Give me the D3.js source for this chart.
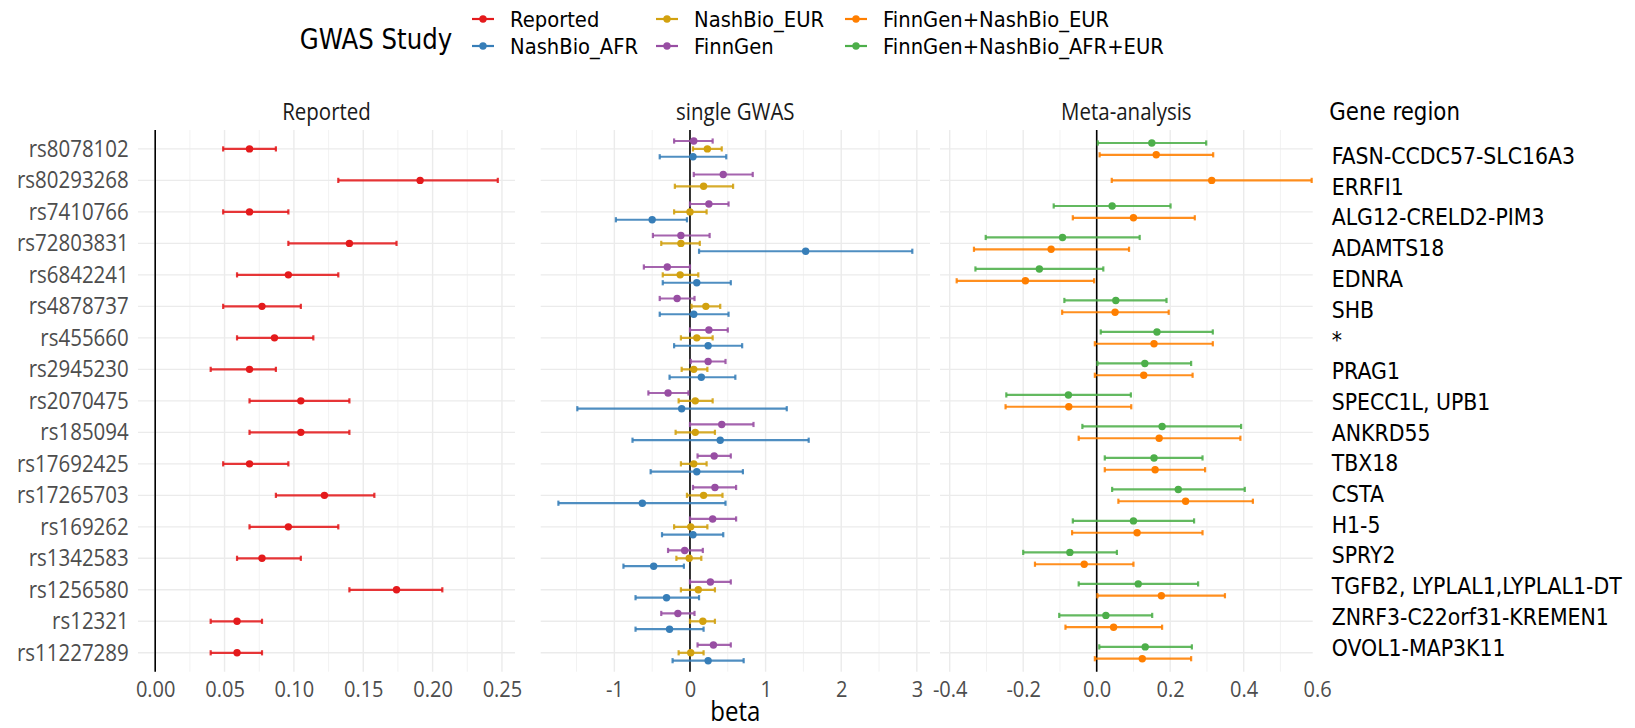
<!DOCTYPE html>
<html>
<head>
<meta charset="utf-8">
<script src="https://cdn.jsdelivr.net/npm/d3@7"></script>
<style>
  body { margin: 0; background: #fff; }
  svg { display: block; }
</style>
</head>
<body>
<svg id="chart" width="1635" height="728"></svg>
<script>
// ---- data ----
const snps = ['rs8078102','rs80293268','rs7410766','rs72803831','rs6842241','rs4878737','rs455660','rs2945230',
  'rs2070475','rs185094','rs17692425','rs17265703','rs169262','rs1342583','rs1256580','rs12321','rs11227289'];

const genes = ['FASN-CCDC57-SLC16A3','ERRFI1','ALG12-CRELD2-PIM3','ADAMTS18','EDNRA','SHB','*','PRAG1',
  'SPECC1L, UPB1','ANKRD55','TBX18','CSTA','H1-5','SPRY2','TGFB2, LYPLAL1,LYPLAL1-DT','ZNRF3-C22orf31-KREMEN1','OVOL1-MAP3K11'];

const studies = ['Reported','NashBio_AFR','NashBio_EUR','FinnGen','FinnGen+NashBio_EUR','FinnGen+NashBio_AFR+EUR'];
const studyColors = ['#E41A1C','#377EB8','#D2A10F','#984EA3','#FF7F00','#4DAF4A'];

// beta / lower / upper per study, one value per snp (null = not available)
const reportedBeta = [0.068,0.191,0.068,0.140,0.096,0.077,0.086,0.068,0.105,0.105,0.068,0.122,0.096,0.077,0.174,0.059,0.059];
const reportedLo   = [0.049,0.132,0.049,0.096,0.059,0.049,0.059,0.040,0.068,0.068,0.049,0.087,0.068,0.059,0.140,0.040,0.040];
const reportedHi   = [0.087,0.247,0.096,0.174,0.132,0.105,0.114,0.087,0.140,0.140,0.096,0.158,0.132,0.105,0.207,0.077,0.077];

const afrBeta = [0.04,null,-0.50,1.53,0.09,0.05,0.24,0.15,-0.11,0.40,0.09,-0.63,0.04,-0.48,-0.31,-0.27,0.24];
const afrLo   = [-0.40,null,-0.98,0.12,-0.36,-0.40,-0.21,-0.27,-1.49,-0.76,-0.52,-1.74,-0.37,-0.88,-0.72,-0.72,-0.23];
const afrHi   = [0.48,null,-0.04,2.94,0.54,0.51,0.69,0.60,1.28,1.57,0.70,0.47,0.44,-0.08,0.12,0.18,0.71];

const eurBeta = [0.23,0.18,0.00,-0.12,-0.13,0.21,0.09,0.05,0.07,0.07,0.05,0.18,0.01,-0.01,0.11,0.17,0.01];
const eurLo   = [0.04,-0.20,-0.21,-0.38,-0.36,0.02,-0.12,-0.11,-0.15,-0.19,-0.12,-0.04,-0.21,-0.18,-0.12,0.00,-0.15];
const eurHi   = [0.42,0.57,0.22,0.13,0.11,0.40,0.30,0.23,0.30,0.33,0.22,0.43,0.23,0.15,0.33,0.33,0.18];

const finnBeta = [0.05,0.44,0.25,-0.12,-0.30,-0.17,0.25,0.24,-0.29,0.42,0.32,0.33,0.30,-0.07,0.27,-0.16,0.31];
const finnLo   = [-0.21,0.05,0.00,-0.49,-0.61,-0.40,0.00,0.01,-0.55,0.00,0.10,0.04,0.00,-0.29,0.00,-0.38,0.10];
const finnHi   = [0.30,0.83,0.51,0.26,0.00,0.06,0.50,0.47,-0.02,0.84,0.54,0.61,0.61,0.17,0.54,0.06,0.54];

const metaEurBeta = [0.162,0.313,0.100,-0.124,-0.194,0.050,0.156,0.128,-0.076,0.170,0.159,0.242,0.110,-0.034,0.176,0.046,0.124];
const metaEurLo   = [0.008,0.041,-0.065,-0.334,-0.381,-0.094,-0.005,-0.005,-0.248,-0.049,0.022,0.059,-0.067,-0.168,0.002,-0.085,-0.005];
const metaEurHi   = [0.317,0.585,0.267,0.088,-0.007,0.196,0.316,0.261,0.094,0.391,0.295,0.425,0.288,0.100,0.349,0.178,0.257];

const metaAllBeta = [0.150,null,0.042,-0.093,-0.156,0.052,0.164,0.131,-0.077,0.178,0.156,0.222,0.100,-0.073,0.113,0.025,0.132];
const metaAllLo   = [0.003,null,-0.117,-0.302,-0.330,-0.088,0.011,0.002,-0.246,-0.039,0.022,0.042,-0.065,-0.200,-0.049,-0.102,0.007];
const metaAllHi   = [0.298,null,0.201,0.117,0.018,0.190,0.316,0.257,0.093,0.393,0.288,0.403,0.265,0.055,0.276,0.151,0.259];

const ticksReported = [0, 0.05, 0.10, 0.15, 0.20, 0.25];
const ticksSingle = [-1, 0, 1, 2, 3];
const ticksMeta = [-0.4, -0.2, 0.0, 0.2, 0.4, 0.6];

// long table
const series = [
  [reportedBeta, reportedLo, reportedHi],
  [afrBeta, afrLo, afrHi],
  [eurBeta, eurLo, eurHi],
  [finnBeta, finnLo, finnHi],
  [metaEurBeta, metaEurLo, metaEurHi],
  [metaAllBeta, metaAllLo, metaAllHi]
];
const panelOf = ['Reported','single GWAS','single GWAS','single GWAS','Meta-analysis','Meta-analysis'];
const rows = [];
series.forEach((s, k) => {
  snps.forEach((snp, i) => {
    if (s[0][i] == null) return;
    rows.push({snp, study: studies[k], si: k, panel: panelOf[k], beta: s[0][i], lo: s[1][i], hi: s[2][i]});
  });
});

// ---- layout ----
const SX = 0.89;   // text in the picture is a bit narrow
const panelTop = 130, panelBottom = 671.7;
const panels = [
  {name: 'Reported', x0: 138, x1: 515, domain: [-0.0124, 0.2594], ticks: ticksReported,
   minor: [0.025, 0.075, 0.125, 0.175, 0.225], fmt: d => d.toFixed(2)},
  {name: 'single GWAS', x0: 540.7, x1: 930, domain: [-1.974, 3.174], ticks: ticksSingle,
   minor: [-1.5, -0.5, 0.5, 1.5, 2.5], fmt: d => String(d)},
  {name: 'Meta-analysis', x0: 940, x1: 1312.7, domain: [-0.4264, 0.5878], ticks: ticksMeta,
   minor: [-0.3, -0.1, 0.1, 0.3, 0.5], fmt: d => d.toFixed(1)}
];

const svg = d3.select('#chart');
const color = d3.scaleOrdinal().domain(studies).range(studyColors);

const y = d3.scalePoint().domain(snps).range([panelTop, panelBottom]).padding(0.6);
const dodgeW = 0.75 * y.step();

function squash(sel) {
  sel.each(function () {
    const t = d3.select(this);
    const x = +t.attr('x') || 0, yy = +t.attr('y') || 0;
    t.attr('x', 0).attr('y', 0).attr('transform', `translate(${x},${yy}) scale(${SX},1)`);
  });
}

panels.forEach((p, pi) => {
  const x = d3.scaleLinear().domain(p.domain).range([p.x0, p.x1]);
  const g = svg.append('g');

  // grid
  g.selectAll('.minor').data(p.minor).enter().append('line')
    .attr('x1', d => x(d)).attr('x2', d => x(d)).attr('y1', panelTop).attr('y2', panelBottom)
    .attr('stroke', '#F2F2F2').attr('stroke-width', 1);
  g.selectAll('.major').data(p.ticks.filter(t => x(t) <= p.x1 + 0.5)).enter().append('line')
    .attr('x1', d => x(d)).attr('x2', d => x(d)).attr('y1', panelTop).attr('y2', panelBottom)
    .attr('stroke', '#EBEBEB').attr('stroke-width', 1.4);
  g.selectAll('.hgrid').data(snps).enter().append('line')
    .attr('x1', p.x0).attr('x2', p.x1).attr('y1', d => y(d)).attr('y2', d => y(d))
    .attr('stroke', '#EBEBEB').attr('stroke-width', 1.4);

  // zero line
  g.append('line').attr('x1', x(0)).attr('x2', x(0)).attr('y1', panelTop).attr('y2', panelBottom)
    .attr('stroke', '#000').attr('stroke-width', 1.6);

  // x axis
  const ax = g.append('g').attr('transform', `translate(0,${panelBottom})`)
    .call(d3.axisBottom(x).tickValues(p.ticks).tickFormat(p.fmt).tickSize(0).tickPadding(9.3));
  ax.select('.domain').remove();
  ax.selectAll('text').attr('font-family', 'Open Sans').attr('font-size', 22.5).attr('fill', '#4D4D4D').call(squash);

  // strip title
  svg.append('text').attr('x', (p.x0 + p.x1) / 2).attr('y', 119.5).attr('text-anchor', 'middle')
    .attr('font-family', 'Open Sans').attr('font-size', 23).attr('fill', '#1A1A1A').text(p.name).call(squash);

  // dodge positions
  const pr = rows.filter(r => r.panel === p.name);
  pr.forEach(r => {
    const group = pr.filter(o => o.snp === r.snp).sort((a, b) => a.si - b.si);
    const n = group.length, k = group.indexOf(r);
    r.y = y(r.snp) + (dodgeW / 2 - dodgeW / n * (k + 0.5));
  });

  const eb = g.selectAll('.eb').data(pr).enter().append('g')
    .attr('stroke', d => color(d.study)).attr('stroke-width', 2.2).attr('stroke-opacity', 0.88);
  eb.append('line').attr('x1', d => x(d.lo)).attr('x2', d => x(d.hi)).attr('y1', d => d.y).attr('y2', d => d.y);
  eb.append('line').attr('x1', d => x(d.lo)).attr('x2', d => x(d.lo)).attr('y1', d => d.y - 2.6).attr('y2', d => d.y + 2.6);
  eb.append('line').attr('x1', d => x(d.hi)).attr('x2', d => x(d.hi)).attr('y1', d => d.y - 2.6).attr('y2', d => d.y + 2.6);
  g.selectAll('.pt').data(pr).enter().append('circle')
    .attr('cx', d => x(d.beta)).attr('cy', d => d.y).attr('r', 3.7).attr('fill', d => color(d.study));

  // y axis on first panel
  if (pi === 0) {
    const ay = svg.append('g').attr('transform', `translate(${p.x0},0)`)
      .call(d3.axisLeft(y).tickSize(0).tickPadding(9.3));
    ay.select('.domain').remove();
    ay.selectAll('text').attr('font-family', 'Open Sans').attr('font-size', 23).attr('fill', '#4D4D4D').call(squash);
  }
});

// x title
svg.append('text').attr('x', (panels[1].x0 + panels[1].x1) / 2).attr('y', 721).attr('text-anchor', 'middle')
  .attr('font-family', 'Open Sans').attr('font-size', 27).attr('fill', '#000').text('beta').call(squash);

// gene region column
const yGene = d3.scalePoint().domain(genes).range([155.7, 647.3]);
svg.append('text').attr('x', 1329.3).attr('y', 119.5)
  .attr('font-family', 'DejaVu Sans').attr('font-size', 24).attr('fill', '#000').text('Gene region').call(squash);
svg.append('g').selectAll('text').data(genes).enter().append('text')
  .attr('x', 1331.7).attr('y', d => yGene(d)).attr('dy', '0.36em')
  .attr('font-family', 'DejaVu Sans').attr('font-size', 23).attr('fill', '#000')
  .text(d => d).call(squash);

// legend
const leg = svg.append('g');
leg.append('text').attr('x', 299.7).attr('y', 48.5)
  .attr('font-family', 'DejaVu Sans').attr('font-size', 27.5).attr('fill', '#000').text('GWAS Study').call(squash);
const keyX = [483, 667, 856];
const rowY = [19, 46];
const items = leg.selectAll('.item').data(studies).enter().append('g')
  .attr('transform', (d, i) => `translate(${keyX[Math.floor(i / 2)]},${rowY[i % 2]})`);
items.append('line').attr('x1', -11).attr('x2', 11).attr('stroke', d => color(d)).attr('stroke-width', 2.2);
items.append('circle').attr('r', 3.7).attr('fill', d => color(d));
items.append('text').attr('x', 27).attr('dy', '0.36em')
  .attr('font-family', 'DejaVu Sans').attr('font-size', 22).attr('fill', '#000').text(d => d).call(squash);
</script>
</body>
</html>
